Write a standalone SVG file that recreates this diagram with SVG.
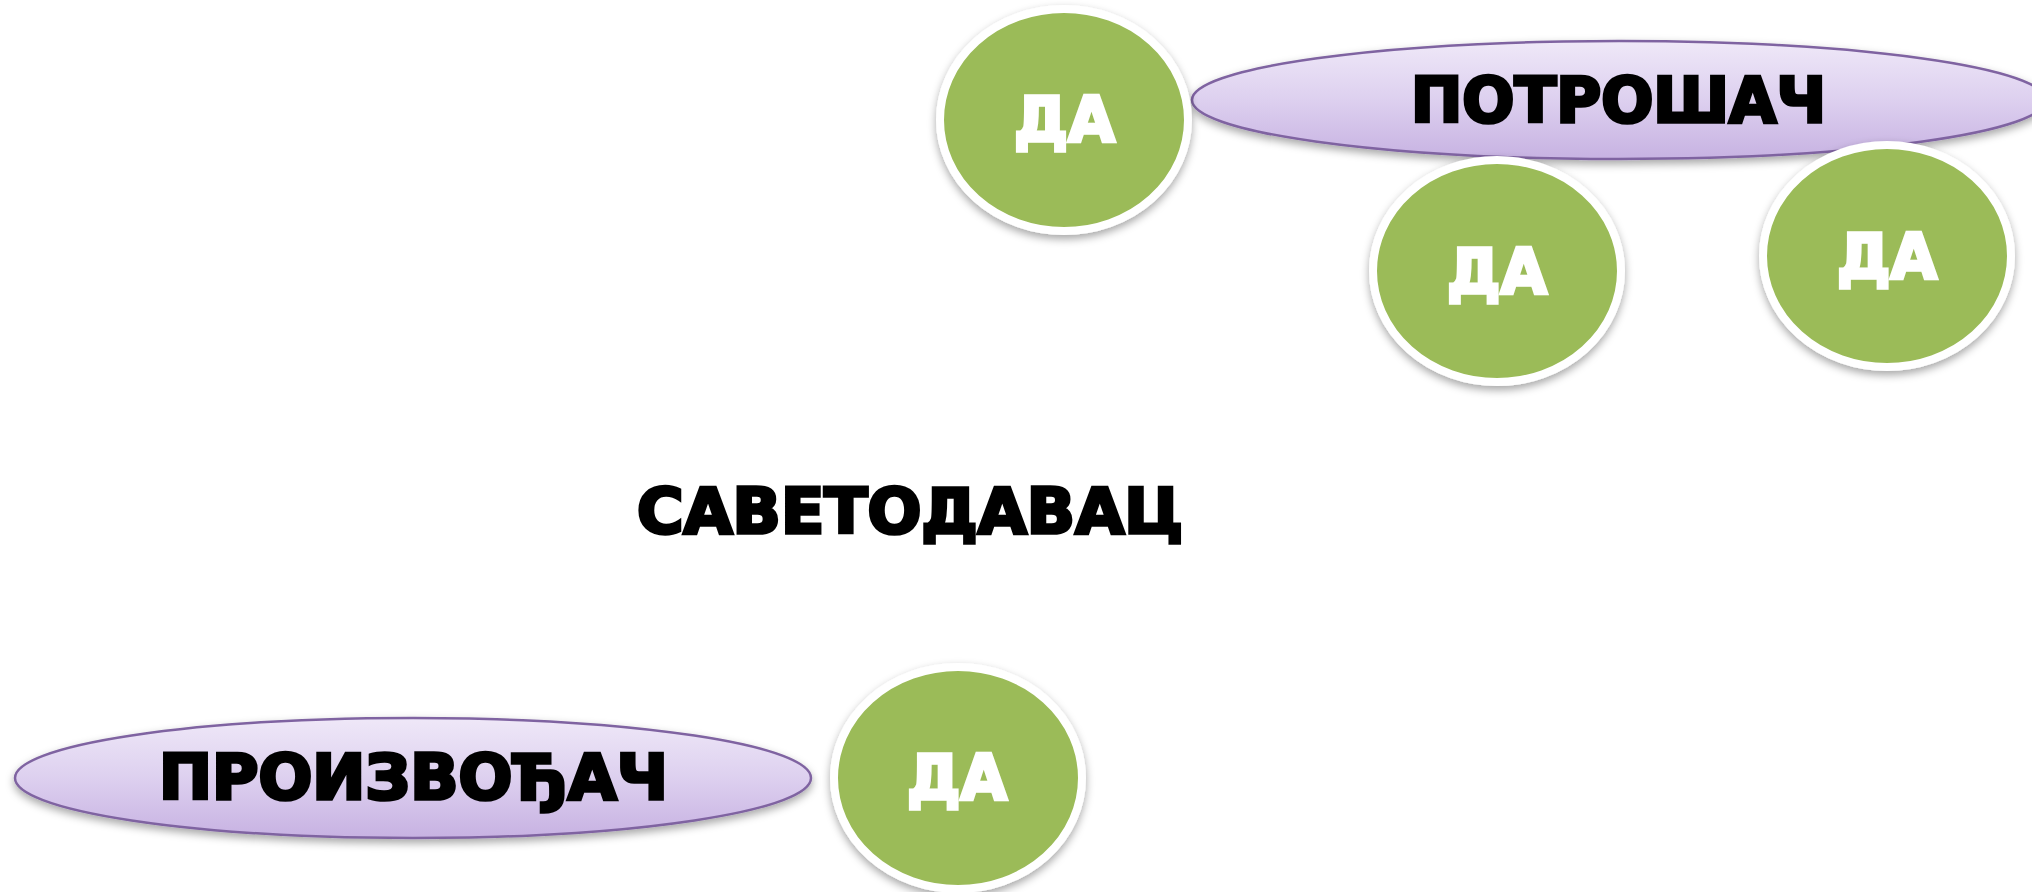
<svg xmlns="http://www.w3.org/2000/svg" width="2032" height="892" viewBox="0 0 2032 892">
  <defs>
    <linearGradient id="purpleGrad" x1="0" y1="0" x2="0" y2="1">
      <stop offset="0" stop-color="#EFE8F8"/>
      <stop offset="0.5" stop-color="#DDD0EF"/>
      <stop offset="1" stop-color="#C7B2E2"/>
    </linearGradient>
    <filter id="shadow" x="-20%" y="-20%" width="140%" height="150%">
      <feDropShadow dx="0" dy="4" stdDeviation="4" flood-color="#000" flood-opacity="0.35"/>
    </filter>
  </defs>
  <style>
    .oval { fill: url(#purpleGrad); stroke: #7F63A1; stroke-width: 2.5; filter: url(#shadow); }
    .da { fill: #9BBB59; stroke: #FFFFFF; stroke-width: 8; filter: url(#shadow); }
    .lbl { font-family: "DejaVu Sans", "Liberation Sans", sans-serif; font-weight: bold; font-size: 62px; stroke-width: 3.5; stroke-linejoin: miter; paint-order: stroke fill; }
    .dark { fill: #000000; stroke: #000000; }
    .light { fill: #FFFFFF; stroke: #FFFFFF; }
  </style>
  <rect width="2032" height="892" fill="#FFFFFF"/>
  <g id="connectors"/>
  <g id="potrosac">
    <ellipse class="oval" cx="1619" cy="100" rx="427" ry="59"/>
    <text class="lbl dark" x="1411" y="121.5" textLength="415" lengthAdjust="spacingAndGlyphs">ПОТРОШАЧ</text>
  </g>
  <g id="proizvodjac">
    <ellipse class="oval" cx="413" cy="778" rx="398" ry="60"/>
    <text class="lbl dark" x="159" y="798.5" textLength="509" lengthAdjust="spacingAndGlyphs">ПРОИЗВОЂАЧ</text>
  </g>
  <g id="savetodavac">
    <text class="lbl dark" x="637" y="532.5" textLength="546" lengthAdjust="spacingAndGlyphs">САВЕТОДАВАЦ</text>
  </g>
  <g id="da1">
    <ellipse class="da" cx="1064" cy="120" rx="124" ry="111"/>
    <text class="lbl light" x="1014" y="140.5" textLength="101" lengthAdjust="spacingAndGlyphs">ДА</text>
  </g>
  <g id="da2">
    <ellipse class="da" cx="1497" cy="271" rx="124" ry="111"/>
    <text class="lbl light" x="1447" y="292.5" textLength="100" lengthAdjust="spacingAndGlyphs">ДА</text>
  </g>
  <g id="da3">
    <ellipse class="da" cx="1887" cy="256" rx="124" ry="111"/>
    <text class="lbl light" x="1837" y="277.5" textLength="100" lengthAdjust="spacingAndGlyphs">ДА</text>
  </g>
  <g id="da4">
    <ellipse class="da" cx="958" cy="778" rx="124" ry="111"/>
    <text class="lbl light" x="907" y="798.5" textLength="100" lengthAdjust="spacingAndGlyphs">ДА</text>
  </g>
</svg>
